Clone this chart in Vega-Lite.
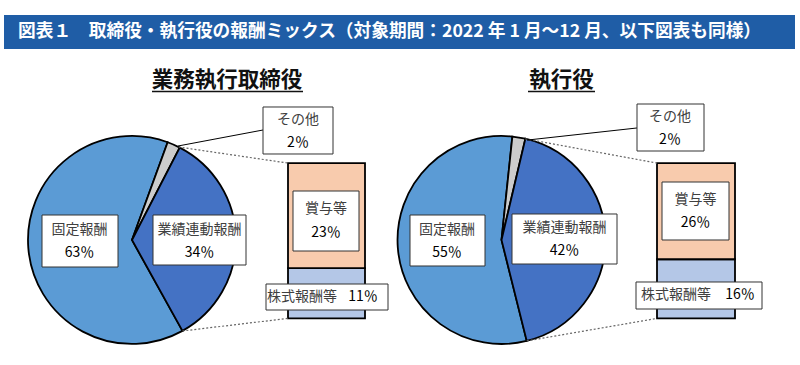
{
 "$schema": "https://vega.github.io/schema/vega-lite/v6.json",
 "width": 800, "height": 365, "padding": 0,
 "autosize": {"type": "fit", "contains": "padding"},
 "background": "white",
 "config": {"view": {"stroke": null}, "axis": {"disable": true}, "text": {"font": "Noto Sans CJK JP"}},
 "datasets": {
  "mix": [
   {"group": "業務執行取締役", "item": "固定報酬", "value": 63, "part": "pie", "order": 1},
   {"group": "業務執行取締役", "item": "その他", "value": 2, "part": "pie", "order": 2},
   {"group": "業務執行取締役", "item": "業績連動報酬", "value": 34, "part": "pie", "order": 3},
   {"group": "業務執行取締役", "item": "株式報酬等", "value": 11, "part": "bar", "order": 1},
   {"group": "業務執行取締役", "item": "賞与等", "value": 23, "part": "bar", "order": 2},
   {"group": "執行役", "item": "固定報酬", "value": 55, "part": "pie", "order": 1},
   {"group": "執行役", "item": "その他", "value": 2, "part": "pie", "order": 2},
   {"group": "執行役", "item": "業績連動報酬", "value": 42, "part": "pie", "order": 3},
   {"group": "執行役", "item": "株式報酬等", "value": 16, "part": "bar", "order": 1},
   {"group": "執行役", "item": "賞与等", "value": 26, "part": "bar", "order": 2}
  ],
  "heading": [{"text": "図表１　取締役・執行役の報酬ミックス（対象期間：2022 年 1 月～12 月、以下図表も同様）"}]
 },
 "resolve": {"scale": {"theta": "independent"}},
 "layer": [
  {"data": {"name": "heading"}, "mark": {"type": "rect", "fill": "#1F5DA6"},
   "encoding": {"x": {"datum": 0.5, "type": "quantitative", "scale": {"domain": [0, 100], "nice": false, "zero": false}}, "x2": {"datum": 99.375},
    "y": {"datum": 1.7345, "type": "quantitative", "scale": {"domain": [-0.3, 2.05], "nice": false, "zero": false}}, "y2": {"datum": 1.9534}}},
  {"data": {"name": "heading"}, "mark": {"type": "text", "align": "left", "fontSize": 17.7, "fontWeight": "bold", "color": "white"},
   "encoding": {"x": {"datum": 2.25, "type": "quantitative", "scale": {"domain": [0, 100], "nice": false, "zero": false}},
    "y": {"datum": 1.8439, "type": "quantitative", "scale": {"domain": [-0.3, 2.05], "nice": false, "zero": false}}, "text": {"field": "text"}}},

  {"data": {"name": "mix"}, "transform": [{"filter": "datum.group==='業務執行取締役' && datum.item==='固定報酬'"}],
   "mark": {"type": "text", "fontSize": 21.5, "fontWeight": "bold", "color": "#111"},
   "encoding": {"x": {"datum": 28.375, "type": "quantitative", "scale": {"domain": [0, 100], "nice": false, "zero": false}},
    "y": {"datum": 1.5317, "type": "quantitative", "scale": {"domain": [-0.3, 2.05], "nice": false, "zero": false}}, "text": {"field": "group"}}},
  {"data": {"name": "mix"}, "transform": [{"filter": "datum.group==='執行役' && datum.item==='固定報酬'"}],
   "mark": {"type": "text", "fontSize": 21.5, "fontWeight": "bold", "color": "#111"},
   "encoding": {"x": {"datum": 70.19, "type": "quantitative", "scale": {"domain": [0, 100], "nice": false, "zero": false}},
    "y": {"datum": 1.5317, "type": "quantitative", "scale": {"domain": [-0.3, 2.05], "nice": false, "zero": false}}, "text": {"field": "group"}}},
  {"data": {"name": "heading"}, "mark": {"type": "rule", "color": "#111", "strokeWidth": 1.5},
   "encoding": {"x": {"datum": 19, "type": "quantitative", "scale": {"domain": [0, 100], "nice": false, "zero": false}}, "x2": {"datum": 37.875},
    "y": {"datum": 1.4604, "type": "quantitative", "scale": {"domain": [-0.3, 2.05], "nice": false, "zero": false}}, "y2": {"datum": 1.4604}}},
  {"data": {"name": "heading"}, "mark": {"type": "rule", "color": "#111", "strokeWidth": 1.5},
   "encoding": {"x": {"datum": 66, "type": "quantitative", "scale": {"domain": [0, 100], "nice": false, "zero": false}}, "x2": {"datum": 74.375},
    "y": {"datum": 1.4604, "type": "quantitative", "scale": {"domain": [-0.3, 2.05], "nice": false, "zero": false}}, "y2": {"datum": 1.4604}}},

  {"data": {"name": "mix"}, "transform": [{"filter": "datum.group==='業務執行取締役' && datum.part==='pie'"}],
   "mark": {"type": "arc", "outerRadius": 104, "stroke": "#000", "strokeWidth": 1.8},
   "encoding": {
    "theta": {"field": "value", "type": "quantitative", "stack": true, "scale": {"range": [2.635, 8.918]}},
    "order": {"field": "order", "type": "quantitative"},
    "color": {"field": "item", "type": "nominal", "legend": null, "scale": {"domain": ["固定報酬", "業績連動報酬", "その他", "賞与等", "株式報酬等"], "range": ["#5B9BD5", "#4472C4", "#CCCCCC", "#F8CBAD", "#B4C7E7"]}},
    "x": {"datum": 16.5, "type": "quantitative", "scale": {"domain": [0, 100], "nice": false, "zero": false}},
    "y": {"datum": 0.505, "type": "quantitative", "scale": {"domain": [-0.3, 2.05], "nice": false, "zero": false}}}},
  {"data": {"name": "mix"}, "transform": [{"filter": "datum.group==='執行役' && datum.part==='pie'"}],
   "mark": {"type": "arc", "outerRadius": 104, "stroke": "#000", "strokeWidth": 1.8},
   "encoding": {
    "theta": {"field": "value", "type": "quantitative", "stack": true, "scale": {"range": [2.897, 9.180]}},
    "order": {"field": "order", "type": "quantitative"},
    "color": {"field": "item", "type": "nominal", "legend": null, "scale": {"domain": ["固定報酬", "業績連動報酬", "その他", "賞与等", "株式報酬等"], "range": ["#5B9BD5", "#4472C4", "#CCCCCC", "#F8CBAD", "#B4C7E7"]}},
    "x": {"datum": 62.69, "type": "quantitative", "scale": {"domain": [0, 100], "nice": false, "zero": false}},
    "y": {"datum": 0.505, "type": "quantitative", "scale": {"domain": [-0.3, 2.05], "nice": false, "zero": false}}}},

  {"data": {"name": "mix"}, "transform": [{"filter": "datum.group==='業務執行取締役' && datum.part==='bar'"}, {"stack": "value", "groupby": ["group"], "sort": [{"field": "order", "order": "ascending"}], "offset": "normalize", "as": ["v0", "v1"]}],
   "mark": {"type": "rect", "stroke": "#000", "strokeWidth": 1.8},
   "encoding": {"x": {"datum": 36, "type": "quantitative", "scale": {"domain": [0, 100], "nice": false, "zero": false}}, "x2": {"datum": 45.625},
    "y": {"field": "v0", "type": "quantitative", "scale": {"domain": [-0.3, 2.05], "nice": false, "zero": false}}, "y2": {"field": "v1"},
    "color": {"field": "item", "type": "nominal", "legend": null, "scale": {"domain": ["固定報酬", "業績連動報酬", "その他", "賞与等", "株式報酬等"], "range": ["#5B9BD5", "#4472C4", "#CCCCCC", "#F8CBAD", "#B4C7E7"]}}}},
  {"data": {"name": "mix"}, "transform": [{"filter": "datum.group==='執行役' && datum.part==='bar'"}, {"stack": "value", "groupby": ["group"], "sort": [{"field": "order", "order": "ascending"}], "offset": "normalize", "as": ["v0", "v1"]}],
   "mark": {"type": "rect", "stroke": "#000", "strokeWidth": 1.8},
   "encoding": {"x": {"datum": 82.125, "type": "quantitative", "scale": {"domain": [0, 100], "nice": false, "zero": false}}, "x2": {"datum": 91.875},
    "y": {"field": "v0", "type": "quantitative", "scale": {"domain": [-0.3, 2.05], "nice": false, "zero": false}}, "y2": {"field": "v1"},
    "color": {"field": "item", "type": "nominal", "legend": null, "scale": {"domain": ["固定報酬", "業績連動報酬", "その他", "賞与等", "株式報酬等"], "range": ["#5B9BD5", "#4472C4", "#CCCCCC", "#F8CBAD", "#B4C7E7"]}}}},

  {"data": {"name": "heading"}, "mark": {"type": "rule", "color": "#666", "strokeWidth": 1.2, "strokeDash": [2, 2]},
   "encoding": {"x": {"datum": 22.325, "type": "quantitative", "scale": {"domain": [0, 100], "nice": false, "zero": false}}, "x2": {"datum": 36},
    "y": {"datum": 1.1035, "type": "quantitative", "scale": {"domain": [-0.3, 2.05], "nice": false, "zero": false}}, "y2": {"datum": 1.0}}},
  {"data": {"name": "heading"}, "mark": {"type": "rule", "color": "#666", "strokeWidth": 1.2, "strokeDash": [2, 2]},
   "encoding": {"x": {"datum": 22.8, "type": "quantitative", "scale": {"domain": [0, 100], "nice": false, "zero": false}}, "x2": {"datum": 36},
    "y": {"datum": -0.081, "type": "quantitative", "scale": {"domain": [-0.3, 2.05], "nice": false, "zero": false}}, "y2": {"datum": 0.0}}},
  {"data": {"name": "heading"}, "mark": {"type": "rule", "color": "#666", "strokeWidth": 1.2, "strokeDash": [2, 2]},
   "encoding": {"x": {"datum": 65.675, "type": "quantitative", "scale": {"domain": [0, 100], "nice": false, "zero": false}}, "x2": {"datum": 82.125},
    "y": {"datum": 1.156, "type": "quantitative", "scale": {"domain": [-0.3, 2.05], "nice": false, "zero": false}}, "y2": {"datum": 1.0}}},
  {"data": {"name": "heading"}, "mark": {"type": "rule", "color": "#666", "strokeWidth": 1.2, "strokeDash": [2, 2]},
   "encoding": {"x": {"datum": 65.84, "type": "quantitative", "scale": {"domain": [0, 100], "nice": false, "zero": false}}, "x2": {"datum": 82.125},
    "y": {"datum": -0.145, "type": "quantitative", "scale": {"domain": [-0.3, 2.05], "nice": false, "zero": false}}, "y2": {"datum": 0.0}}},
  {"data": {"name": "heading"}, "mark": {"type": "rule", "color": "#000", "strokeWidth": 1},
   "encoding": {"x": {"datum": 22.25, "type": "quantitative", "scale": {"domain": [0, 100], "nice": false, "zero": false}}, "x2": {"datum": 32.875},
    "y": {"datum": 1.110, "type": "quantitative", "scale": {"domain": [-0.3, 2.05], "nice": false, "zero": false}}, "y2": {"datum": 1.213}}},
  {"data": {"name": "heading"}, "mark": {"type": "rule", "color": "#000", "strokeWidth": 1},
   "encoding": {"x": {"datum": 65.875, "type": "quantitative", "scale": {"domain": [0, 100], "nice": false, "zero": false}}, "x2": {"datum": 79.625},
    "y": {"datum": 1.148, "type": "quantitative", "scale": {"domain": [-0.3, 2.05], "nice": false, "zero": false}}, "y2": {"datum": 1.226}}},

  {"data": {"name": "mix"}, "transform": [{"filter": "datum.group==='業務執行取締役' && datum.item==='その他'"}, {"calculate": "datum.value + '％'", "as": "pct"}],
   "layer": [
    {"mark": {"type": "rect", "fill": "white", "stroke": "#333", "strokeWidth": 1},
     "encoding": {"x": {"datum": 32.875, "type": "quantitative", "scale": {"domain": [0, 100], "nice": false, "zero": false}}, "x2": {"datum": 41.625},
      "y": {"datum": 1.3611, "type": "quantitative", "scale": {"domain": [-0.3, 2.05], "nice": false, "zero": false}}, "y2": {"datum": 1.0585}}},
    {"mark": {"type": "text", "fontSize": 14, "color": "#404040"},
     "encoding": {"x": {"datum": 37.25, "type": "quantitative", "scale": {"domain": [0, 100], "nice": false, "zero": false}},
      "y": {"datum": 1.2774, "type": "quantitative", "scale": {"domain": [-0.3, 2.05], "nice": false, "zero": false}}, "text": {"field": "item"}}},
    {"mark": {"type": "text", "fontSize": 14, "color": "#000"},
     "encoding": {"x": {"datum": 37.25, "type": "quantitative", "scale": {"domain": [0, 100], "nice": false, "zero": false}},
      "y": {"datum": 1.1293, "type": "quantitative", "scale": {"domain": [-0.3, 2.05], "nice": false, "zero": false}}, "text": {"field": "pct"}}}
   ]},
  {"data": {"name": "mix"}, "transform": [{"filter": "datum.group==='業務執行取締役' && datum.item==='固定報酬'"}, {"calculate": "datum.value + '％'", "as": "pct"}],
   "layer": [
    {"mark": {"type": "rect", "fill": "white", "stroke": "#333", "strokeWidth": 1},
     "encoding": {"x": {"datum": 5.25, "type": "quantitative", "scale": {"domain": [0, 100], "nice": false, "zero": false}}, "x2": {"datum": 14.75},
      "y": {"datum": 0.6657, "type": "quantitative", "scale": {"domain": [-0.3, 2.05], "nice": false, "zero": false}}, "y2": {"datum": 0.3309}}},
    {"mark": {"type": "text", "fontSize": 14, "color": "#404040"},
     "encoding": {"x": {"datum": 9.94, "type": "quantitative", "scale": {"domain": [0, 100], "nice": false, "zero": false}},
      "y": {"datum": 0.5691, "type": "quantitative", "scale": {"domain": [-0.3, 2.05], "nice": false, "zero": false}}, "text": {"field": "item"}}},
    {"mark": {"type": "text", "fontSize": 14, "color": "#000"},
     "encoding": {"x": {"datum": 9.94, "type": "quantitative", "scale": {"domain": [0, 100], "nice": false, "zero": false}},
      "y": {"datum": 0.4211, "type": "quantitative", "scale": {"domain": [-0.3, 2.05], "nice": false, "zero": false}}, "text": {"field": "pct"}}}
   ]},
  {"data": {"name": "mix"}, "transform": [{"filter": "datum.group==='業務執行取締役' && datum.item==='業績連動報酬'"}, {"calculate": "datum.value + '％'", "as": "pct"}],
   "layer": [
    {"mark": {"type": "rect", "fill": "white", "stroke": "#333", "strokeWidth": 1},
     "encoding": {"x": {"datum": 19.125, "type": "quantitative", "scale": {"domain": [0, 100], "nice": false, "zero": false}}, "x2": {"datum": 30.75},
      "y": {"datum": 0.6657, "type": "quantitative", "scale": {"domain": [-0.3, 2.05], "nice": false, "zero": false}}, "y2": {"datum": 0.3438}}},
    {"mark": {"type": "text", "fontSize": 14, "color": "#404040"},
     "encoding": {"x": {"datum": 24.94, "type": "quantitative", "scale": {"domain": [0, 100], "nice": false, "zero": false}},
      "y": {"datum": 0.5691, "type": "quantitative", "scale": {"domain": [-0.3, 2.05], "nice": false, "zero": false}}, "text": {"field": "item"}}},
    {"mark": {"type": "text", "fontSize": 14, "color": "#000"},
     "encoding": {"x": {"datum": 24.94, "type": "quantitative", "scale": {"domain": [0, 100], "nice": false, "zero": false}},
      "y": {"datum": 0.4211, "type": "quantitative", "scale": {"domain": [-0.3, 2.05], "nice": false, "zero": false}}, "text": {"field": "pct"}}}
   ]},
  {"data": {"name": "mix"}, "transform": [{"filter": "datum.group==='業務執行取締役' && datum.item==='賞与等'"}, {"calculate": "datum.value + '％'", "as": "pct"}],
   "layer": [
    {"mark": {"type": "rect", "fill": "white", "stroke": "#333", "strokeWidth": 1},
     "encoding": {"x": {"datum": 36.625, "type": "quantitative", "scale": {"domain": [0, 100], "nice": false, "zero": false}}, "x2": {"datum": 44.875},
      "y": {"datum": 0.8202, "type": "quantitative", "scale": {"domain": [-0.3, 2.05], "nice": false, "zero": false}}, "y2": {"datum": 0.4339}}},
    {"mark": {"type": "text", "fontSize": 14, "color": "#404040"},
     "encoding": {"x": {"datum": 40.75, "type": "quantitative", "scale": {"domain": [0, 100], "nice": false, "zero": false}},
      "y": {"datum": 0.7044, "type": "quantitative", "scale": {"domain": [-0.3, 2.05], "nice": false, "zero": false}}, "text": {"field": "item"}}},
    {"mark": {"type": "text", "fontSize": 14, "color": "#000"},
     "encoding": {"x": {"datum": 40.75, "type": "quantitative", "scale": {"domain": [0, 100], "nice": false, "zero": false}},
      "y": {"datum": 0.5498, "type": "quantitative", "scale": {"domain": [-0.3, 2.05], "nice": false, "zero": false}}, "text": {"field": "pct"}}}
   ]},
  {"data": {"name": "mix"}, "transform": [{"filter": "datum.group==='業務執行取締役' && datum.item==='株式報酬等'"}, {"calculate": "datum.value + '％'", "as": "pct"}],
   "layer": [
    {"mark": {"type": "rect", "fill": "white", "stroke": "#333", "strokeWidth": 1},
     "encoding": {"x": {"datum": 33.25, "type": "quantitative", "scale": {"domain": [0, 100], "nice": false, "zero": false}}, "x2": {"datum": 48.5},
      "y": {"datum": 0.2215, "type": "quantitative", "scale": {"domain": [-0.3, 2.05], "nice": false, "zero": false}}, "y2": {"datum": 0.0541}}},
    {"mark": {"type": "text", "fontSize": 14, "color": "#404040"},
     "encoding": {"x": {"datum": 37.75, "type": "quantitative", "scale": {"domain": [0, 100], "nice": false, "zero": false}},
      "y": {"datum": 0.1378, "type": "quantitative", "scale": {"domain": [-0.3, 2.05], "nice": false, "zero": false}}, "text": {"field": "item"}}},
    {"mark": {"type": "text", "fontSize": 14, "color": "#000"},
     "encoding": {"x": {"datum": 45.375, "type": "quantitative", "scale": {"domain": [0, 100], "nice": false, "zero": false}},
      "y": {"datum": 0.1378, "type": "quantitative", "scale": {"domain": [-0.3, 2.05], "nice": false, "zero": false}}, "text": {"field": "pct"}}}
   ]},

  {"data": {"name": "mix"}, "transform": [{"filter": "datum.group==='執行役' && datum.item==='その他'"}, {"calculate": "datum.value + '％'", "as": "pct"}],
   "layer": [
    {"mark": {"type": "rect", "fill": "white", "stroke": "#333", "strokeWidth": 1},
     "encoding": {"x": {"datum": 79.625, "type": "quantitative", "scale": {"domain": [0, 100], "nice": false, "zero": false}}, "x2": {"datum": 88},
      "y": {"datum": 1.3804, "type": "quantitative", "scale": {"domain": [-0.3, 2.05], "nice": false, "zero": false}}, "y2": {"datum": 1.0778}}},
    {"mark": {"type": "text", "fontSize": 14, "color": "#404040"},
     "encoding": {"x": {"datum": 83.75, "type": "quantitative", "scale": {"domain": [0, 100], "nice": false, "zero": false}},
      "y": {"datum": 1.2967, "type": "quantitative", "scale": {"domain": [-0.3, 2.05], "nice": false, "zero": false}}, "text": {"field": "item"}}},
    {"mark": {"type": "text", "fontSize": 14, "color": "#000"},
     "encoding": {"x": {"datum": 83.75, "type": "quantitative", "scale": {"domain": [0, 100], "nice": false, "zero": false}},
      "y": {"datum": 1.1487, "type": "quantitative", "scale": {"domain": [-0.3, 2.05], "nice": false, "zero": false}}, "text": {"field": "pct"}}}
   ]},
  {"data": {"name": "mix"}, "transform": [{"filter": "datum.group==='執行役' && datum.item==='固定報酬'"}, {"calculate": "datum.value + '％'", "as": "pct"}],
   "layer": [
    {"mark": {"type": "rect", "fill": "white", "stroke": "#333", "strokeWidth": 1},
     "encoding": {"x": {"datum": 51.25, "type": "quantitative", "scale": {"domain": [0, 100], "nice": false, "zero": false}}, "x2": {"datum": 60.625},
      "y": {"datum": 0.6657, "type": "quantitative", "scale": {"domain": [-0.3, 2.05], "nice": false, "zero": false}}, "y2": {"datum": 0.3374}}},
    {"mark": {"type": "text", "fontSize": 14, "color": "#404040"},
     "encoding": {"x": {"datum": 55.875, "type": "quantitative", "scale": {"domain": [0, 100], "nice": false, "zero": false}},
      "y": {"datum": 0.5691, "type": "quantitative", "scale": {"domain": [-0.3, 2.05], "nice": false, "zero": false}}, "text": {"field": "item"}}},
    {"mark": {"type": "text", "fontSize": 14, "color": "#000"},
     "encoding": {"x": {"datum": 55.875, "type": "quantitative", "scale": {"domain": [0, 100], "nice": false, "zero": false}},
      "y": {"datum": 0.4211, "type": "quantitative", "scale": {"domain": [-0.3, 2.05], "nice": false, "zero": false}}, "text": {"field": "pct"}}}
   ]},
  {"data": {"name": "mix"}, "transform": [{"filter": "datum.group==='執行役' && datum.item==='業績連動報酬'"}, {"calculate": "datum.value + '％'", "as": "pct"}],
   "layer": [
    {"mark": {"type": "rect", "fill": "white", "stroke": "#333", "strokeWidth": 1},
     "encoding": {"x": {"datum": 64, "type": "quantitative", "scale": {"domain": [0, 100], "nice": false, "zero": false}}, "x2": {"datum": 77.125},
      "y": {"datum": 0.6722, "type": "quantitative", "scale": {"domain": [-0.3, 2.05], "nice": false, "zero": false}}, "y2": {"datum": 0.3502}}},
    {"mark": {"type": "text", "fontSize": 14, "color": "#404040"},
     "encoding": {"x": {"datum": 70.56, "type": "quantitative", "scale": {"domain": [0, 100], "nice": false, "zero": false}},
      "y": {"datum": 0.582, "type": "quantitative", "scale": {"domain": [-0.3, 2.05], "nice": false, "zero": false}}, "text": {"field": "item"}}},
    {"mark": {"type": "text", "fontSize": 14, "color": "#000"},
     "encoding": {"x": {"datum": 70.56, "type": "quantitative", "scale": {"domain": [0, 100], "nice": false, "zero": false}},
      "y": {"datum": 0.4339, "type": "quantitative", "scale": {"domain": [-0.3, 2.05], "nice": false, "zero": false}}, "text": {"field": "pct"}}}
   ]},
  {"data": {"name": "mix"}, "transform": [{"filter": "datum.group==='執行役' && datum.item==='賞与等'"}, {"calculate": "datum.value + '％'", "as": "pct"}],
   "layer": [
    {"mark": {"type": "rect", "fill": "white", "stroke": "#333", "strokeWidth": 1},
     "encoding": {"x": {"datum": 82.75, "type": "quantitative", "scale": {"domain": [0, 100], "nice": false, "zero": false}}, "x2": {"datum": 91.125},
      "y": {"datum": 0.8782, "type": "quantitative", "scale": {"domain": [-0.3, 2.05], "nice": false, "zero": false}}, "y2": {"datum": 0.5048}}},
    {"mark": {"type": "text", "fontSize": 14, "color": "#404040"},
     "encoding": {"x": {"datum": 86.94, "type": "quantitative", "scale": {"domain": [0, 100], "nice": false, "zero": false}},
      "y": {"datum": 0.7623, "type": "quantitative", "scale": {"domain": [-0.3, 2.05], "nice": false, "zero": false}}, "text": {"field": "item"}}},
    {"mark": {"type": "text", "fontSize": 14, "color": "#000"},
     "encoding": {"x": {"datum": 86.94, "type": "quantitative", "scale": {"domain": [0, 100], "nice": false, "zero": false}},
      "y": {"datum": 0.6142, "type": "quantitative", "scale": {"domain": [-0.3, 2.05], "nice": false, "zero": false}}, "text": {"field": "pct"}}}
   ]},
  {"data": {"name": "mix"}, "transform": [{"filter": "datum.group==='執行役' && datum.item==='株式報酬等'"}, {"calculate": "datum.value + '％'", "as": "pct"}],
   "layer": [
    {"mark": {"type": "rect", "fill": "white", "stroke": "#333", "strokeWidth": 1},
     "encoding": {"x": {"datum": 79.5, "type": "quantitative", "scale": {"domain": [0, 100], "nice": false, "zero": false}}, "x2": {"datum": 95.25},
      "y": {"datum": 0.2344, "type": "quantitative", "scale": {"domain": [-0.3, 2.05], "nice": false, "zero": false}}, "y2": {"datum": 0.0605}}},
    {"mark": {"type": "text", "fontSize": 14, "color": "#404040"},
     "encoding": {"x": {"datum": 84.5, "type": "quantitative", "scale": {"domain": [0, 100], "nice": false, "zero": false}},
      "y": {"datum": 0.1507, "type": "quantitative", "scale": {"domain": [-0.3, 2.05], "nice": false, "zero": false}}, "text": {"field": "item"}}},
    {"mark": {"type": "text", "fontSize": 14, "color": "#000"},
     "encoding": {"x": {"datum": 92.5, "type": "quantitative", "scale": {"domain": [0, 100], "nice": false, "zero": false}},
      "y": {"datum": 0.1507, "type": "quantitative", "scale": {"domain": [-0.3, 2.05], "nice": false, "zero": false}}, "text": {"field": "pct"}}}
   ]}
 ]
}
